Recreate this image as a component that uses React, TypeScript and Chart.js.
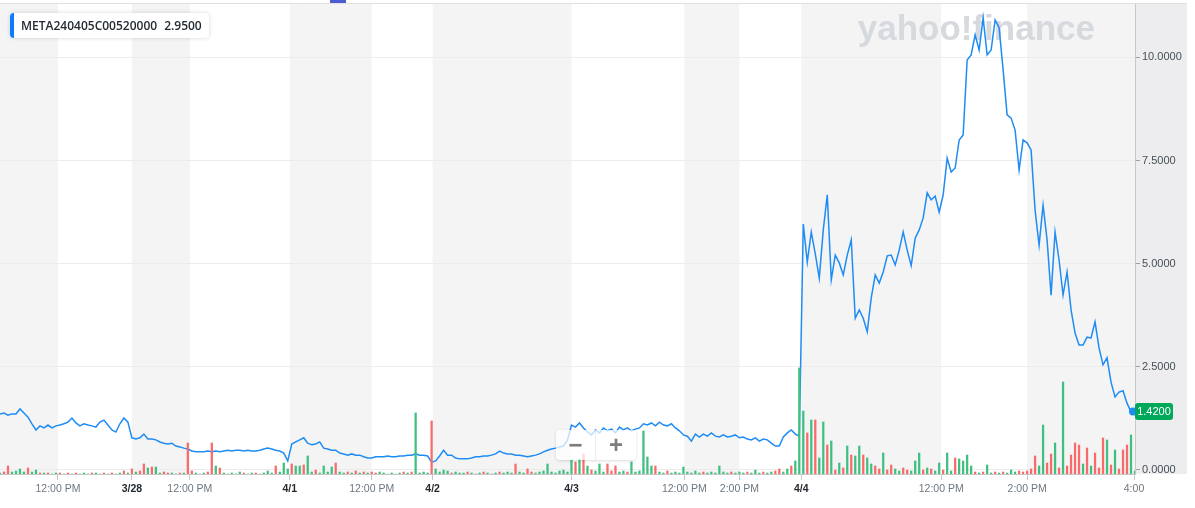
import React, { useEffect, useRef } from 'react';
import { Chart, registerables } from 'chart.js';

Chart.register(...registerables);

const symbol = 'META240405C00520000';
const quote = '2.9500';

// option price, one point per interval (3/27 .. 4/4)
const price: number[] = [
  1.36, 1.38, 1.33, 1.36, 1.36, 1.48, 1.38, 1.28, 1.12, 0.97,
  1.07, 1.02, 1.09, 1.02, 1.07, 1.09, 1.12, 1.16, 1.26, 1.14,
  1.07, 1.12, 1.09, 1.07, 1.04, 1.16, 1.21, 1.09, 0.97, 0.92,
  1.12, 1.26, 1.16, 0.78, 0.75, 0.78, 0.87, 0.75, 0.75, 0.73,
  0.68, 0.65, 0.63, 0.65, 0.58, 0.56, 0.53, 0.51, 0.46, 0.44,
  0.44, 0.44, 0.46, 0.44, 0.46, 0.44, 0.46, 0.48, 0.46, 0.48,
  0.48, 0.46, 0.48, 0.46, 0.46, 0.48, 0.51, 0.53, 0.51, 0.48,
  0.46, 0.41, 0.22, 0.63, 0.68, 0.73, 0.78, 0.65, 0.61, 0.63,
  0.68, 0.53, 0.51, 0.48, 0.48, 0.41, 0.39, 0.36, 0.39, 0.36,
  0.36, 0.32, 0.29, 0.29, 0.32, 0.32, 0.32, 0.34, 0.32, 0.32,
  0.34, 0.34, 0.36, 0.36, 0.39, 0.36, 0.36, 0.34, 0.19, 0.22,
  0.34, 0.48, 0.36, 0.36, 0.29, 0.27, 0.27, 0.27, 0.29, 0.32,
  0.32, 0.34, 0.34, 0.36, 0.39, 0.46, 0.41, 0.39, 0.39, 0.36,
  0.36, 0.34, 0.32, 0.34, 0.36, 0.39, 0.44, 0.48, 0.51, 0.53,
  0.56, 0.58, 0.73, 1.09, 1.04, 1.14, 1.02, 0.92, 0.85, 0.97,
  0.90, 1.02, 0.95, 0.99, 0.90, 1.04, 0.97, 1.02, 0.95, 0.99,
  1.02, 1.12, 1.09, 1.14, 1.07, 1.16, 1.09, 1.07, 1.12, 1.02,
  0.95, 0.85, 0.82, 0.70, 0.87, 0.80, 0.87, 0.82, 0.90, 0.82,
  0.80, 0.85, 0.80, 0.82, 0.85, 0.78, 0.80, 0.75, 0.73, 0.78,
  0.70, 0.75, 0.73, 0.65, 0.58, 0.58, 0.80, 0.90, 0.97, 0.87,
  0.82, 5.96, 5.04, 5.77, 5.24, 4.65, 5.82, 6.67, 4.61, 5.21,
  5.02, 4.73, 5.21, 5.58, 3.68, 3.88, 3.68, 3.35, 4.17, 4.73,
  4.53, 4.80, 5.19, 5.21, 4.97, 5.33, 5.77, 5.33, 4.95, 5.62,
  5.82, 6.11, 6.72, 6.55, 6.64, 6.25, 6.67, 7.56, 7.22, 7.32,
  8.00, 8.12, 9.94, 10.06, 10.55, 10.18, 10.96, 10.06, 10.18, 10.91,
  10.72, 9.70, 8.61, 8.53, 8.24, 7.27, 8.00, 7.93, 7.76, 6.30,
  5.45, 6.42, 5.58, 4.24, 5.77, 5.09, 4.24, 4.80, 3.88, 3.32,
  3.03, 3.03, 3.22, 3.20, 3.59, 2.96, 2.55, 2.72, 2.13, 1.77,
  1.89, 1.92, 1.62, 1.41, 1.42,
];

// volume per interval (relative units); negative = down interval (red)
const volume: number[] = [
  1, -2, -8, 2, 3, 5, 2, -6, 2, 4,
  -1, 1, -1, 0, 1, -1, 0, -1, 0, -1,
  0, 1, 0, -1, 1, 0, -1, 0, -1, 0,
  1, -3, 1, -5, 2, -3, -10, 6, -7, 7,
  1, -2, -1, 1, 0, -1, 1, -31, -3, 1,
  0, 1, -2, -31, 8, -6, 1, 0, 1, 0,
  2, -1, 0, 1, -1, 0, 1, 3, 1, -8,
  2, 11, 5, -10, 8, 8, -9, 18, 2, -4,
  1, 8, 2, 7, -11, 2, 1, -2, 1, -3,
  1, -2, 1, -2, -1, 2, 1, 0, 1, 0,
  1, -2, 1, -2, 61, 1, 2, 1, -53, 5,
  2, 4, 3, -1, 2, 1, 1, -2, 1, 0,
  1, -2, 1, 0, 1, -2, 1, 2, 1, -10,
  2, 1, -5, -2, 1, 2, 3, 10, 2, 1,
  3, 4, 2, 14, -12, 15, -20, 8, -4, 3,
  10, 2, -10, -3, -8, 2, 3, -2, 12, 2,
  3, 43, 17, 8, -8, 2, 1, -3, 1, 2,
  1, 7, 2, 1, 3, 1, -2, 1, 2, 1,
  8, 2, 1, -2, 1, 2, 1, -2, 1, 4,
  1, -2, 1, 2, -3, -5, 2, 5, -8, 13,
  106, 63, -41, 54, -54, 16, 52, -29, 33, -4,
  11, -6, 28, -19, 18, 28, -19, 16, 10, -8,
  -5, 21, -4, -9, 5, 3, -6, -4, 3, 13,
  21, -4, 6, -5, 3, 11, -4, 21, 3, -16,
  15, 13, 19, 8, -2, 1, -2, 9, 1, -2,
  1, -2, 1, 4, 2, -3, -2, -3, -5, -18,
  8, 49, -11, -20, 31, -6, 92, -8, -19, -31,
  -29, 10, -26, 8, -21, -6, -36, 34, -9, 24,
  -5, -24, -29, 39, 3,
];

// x-axis ticks (position on the interval axis) and their labels
const xTickPos: number[] = [14.5, 33, 47.5, 72.5, 93, 108.25, 143, 171.25, 185, 200.5, 235.5, 257, 283.75];
const xTickText: string[] = ['12:00 PM', '3/28', '12:00 PM', '4/1', '12:00 PM', '4/2', '4/3', '12:00 PM', '2:00 PM', '4/4', '12:00 PM', '2:00 PM', '4:00'];
const yTickValues: number[] = [0, 2.5, 5, 7.5, 10];

const FONT = '"Liberation Sans", Arial, Helvetica, sans-serif';
const LINE = '#1e8cf5';
const UP = '#3fbf80';
const DOWN = '#f96a6a';

export default function App() {
  const canvasRef = useRef<HTMLCanvasElement | null>(null);

  useEffect(() => {
    document.body.style.margin = '0';
    const canvas = canvasRef.current;
    if (!canvas) return;
    const n = price.length;
    const last = price[n - 1];

    const decor = {
      id: 'decor',
      beforeDraw(chart: any) {
        const { ctx, chartArea, scales } = chart;
        const { left, right, top, bottom } = chartArea;
        const xs = scales.x;
        ctx.save();
        const edges: number[] = [left, ...xTickPos.map((v) => xs.getPixelForValue(v))];
        if (right - edges[edges.length - 1] > 2) edges.push(right);
        else edges[edges.length - 1] = right;
        ctx.fillStyle = '#f4f4f4';
        for (let k = 0; k + 1 < edges.length; k += 2) {
          ctx.fillRect(edges[k], top, edges[k + 1] - edges[k], bottom - top);
        }
        ctx.fillStyle = '#ededef';
        ctx.fillRect(right, top, chart.width - right, bottom - top);
        ctx.font = `bold 35px ${FONT}`;
        ctx.fillStyle = '#d6d9de';
        ctx.textAlign = 'right';
        ctx.textBaseline = 'alphabetic';
        ctx.fillText('yahoo!finance', right - 40, top + 37);
        ctx.restore();
      },
      afterDraw(chart: any) {
        const { ctx, chartArea, scales } = chart;
        const { right, top } = chartArea;
        ctx.save();
        ctx.strokeStyle = '#e0e0e0';
        ctx.lineWidth = 1;
        ctx.beginPath();
        ctx.moveTo(0, top + 0.5);
        ctx.lineTo(chart.width, top + 0.5);
        ctx.stroke();
        const px = scales.x.getPixelForValue(n - 1);
        const py = scales.y.getPixelForValue(last);
        ctx.fillStyle = LINE;
        ctx.beginPath();
        ctx.arc(px - 2, py, 4, 0, Math.PI * 2);
        ctx.fill();
        const w = 38;
        const h = 17;
        ctx.fillStyle = '#00a85a';
        ctx.beginPath();
        ctx.roundRect(right, py - h / 2, w, h, 3);
        ctx.fill();
        ctx.fillStyle = '#ffffff';
        ctx.font = `11px ${FONT}`;
        ctx.textAlign = 'center';
        ctx.textBaseline = 'middle';
        ctx.fillText(last.toFixed(4), right + w / 2, py + 0.5);
        ctx.restore();
      },
    };

    const chart = new Chart(canvas, {
      type: 'line',
      data: {
        datasets: [
          {
            type: 'bar',
            data: volume.map((v, i) => ({ x: i, y: Math.abs(v) })),
            backgroundColor: volume.map((v) => (v < 0 ? DOWN : UP)),
            borderWidth: 0,
            barThickness: 1.6,
            xAxisID: 'x',
            yAxisID: 'vol',
            order: 0,
          } as any,
          {
            type: 'line',
            data: price.map((v, i) => ({ x: i, y: v })),
            borderColor: LINE,
            borderWidth: 1.5,
            pointRadius: 0,
            tension: 0,
            fill: false,
            xAxisID: 'x',
            yAxisID: 'y',
            order: 1,
          } as any,
        ],
      },
      options: {
        responsive: false,
        animation: false,
        devicePixelRatio: 1,
        events: [],
        layout: { padding: { top: 3, left: 0, right: 0, bottom: 0 } },
        plugins: { legend: { display: false }, tooltip: { enabled: false } },
        scales: {
          x: {
            type: 'linear',
            min: 0,
            max: n - 1,
            offset: false,
            afterBuildTicks: (s: any) => {
              s.ticks = xTickPos.map((v) => ({ value: v }));
            },
            afterFit: (s: any) => {
              s.height = 34;
              s.paddingLeft = 0;
              s.paddingRight = 0;
            },
            ticks: {
              autoSkip: false,
              maxRotation: 0,
              padding: 3,
              callback: (_v: any, idx: number) => xTickText[idx],
              color: (c: any) => (xTickText[c.index] && xTickText[c.index].includes('/') ? '#232a31' : '#6e7780'),
              font: (c: any) => ({
                family: FONT,
                size: 10.5,
                weight: xTickText[c.index] && xTickText[c.index].includes('/') ? 'bold' : 'normal',
              }),
            },
            grid: { offset: false, drawOnChartArea: false, tickLength: 6, color: '#c8c8c8' },
            border: { color: '#c8c8c8' },
          } as any,
          y: {
            type: 'linear',
            position: 'right',
            min: -0.097,
            max: 11.32,
            afterBuildTicks: (s: any) => {
              s.ticks = yTickValues.map((v) => ({ value: v }));
            },
            afterFit: (s: any) => {
              s.width = 52;
              s.paddingTop = 0;
              s.paddingBottom = 0;
            },
            ticks: {
              padding: 2,
              color: '#464e56',
              font: { family: FONT, size: 11 },
              callback: (v: any) => Number(v).toFixed(4),
            },
            grid: { color: '#ececec', tickColor: '#a0a0a0', tickLength: 5 },
            border: { color: '#c8c8c8' },
          } as any,
          vol: {
            type: 'linear',
            axis: 'y',
            display: false,
            min: 0,
            max: 471,
          } as any,
        },
      },
      plugins: [decor],
    });

    return () => chart.destroy();
  }, []);

  return (
    <div style={{ position: 'relative', width: 1195, height: 508, overflow: 'hidden', background: '#fff' }}>
      <canvas ref={canvasRef} width={1187} height={508} style={{ position: 'absolute', left: 0, top: 0 }} />
      <div style={{ position: 'absolute', left: 330, top: 0, width: 16, height: 3, background: '#4d5bd6' }} />
      <div
        style={{
          position: 'absolute',
          left: 10,
          top: 13,
          height: 25,
          display: 'flex',
          alignItems: 'center',
          background: '#fff',
          borderRadius: 4,
          boxShadow: '0 0 4px rgba(0,0,0,0.16)',
          borderLeft: '4px solid #0f7cff',
          paddingLeft: 7,
          paddingRight: 7,
          font: '600 12px "Open Sans", sans-serif',
          color: '#232a31',
          whiteSpace: 'nowrap',
        }}
      >
        <span>{symbol}</span>
        <span style={{ marginLeft: 7 }}>{quote}</span>
      </div>
      <div
        style={{
          position: 'absolute',
          left: 556,
          top: 430,
          width: 80,
          height: 30,
          background: 'rgba(255,255,255,0.72)',
          borderRadius: 4,
          boxShadow: '0 1px 3px rgba(0,0,0,0.14)',
          display: 'flex',
          alignItems: 'center',
        }}
      >
        <div
          style={{
            width: 39,
            textAlign: 'center',
            font: `bold 24px ${FONT}`,
            color: '#7d7d7d',
            lineHeight: '30px',
            borderRight: '1px solid rgba(0,0,0,0.07)',
          }}
        >
          −
        </div>
        <div style={{ flex: 1, textAlign: 'center', font: `bold 24px ${FONT}`, color: '#7d7d7d', lineHeight: '30px' }}>+</div>
      </div>
    </div>
  );
}
